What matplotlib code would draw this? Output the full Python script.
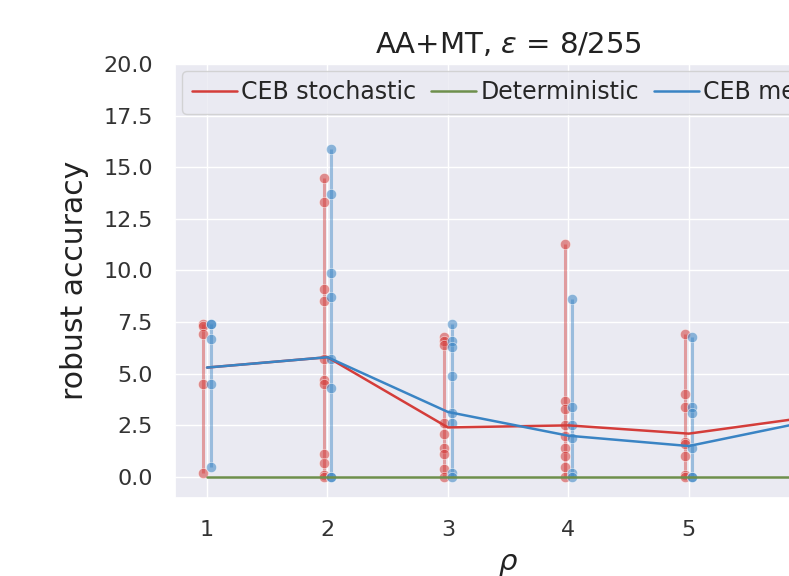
import matplotlib
matplotlib.use("Agg")
import matplotlib.pyplot as plt
import seaborn as sns

rho = [1, 2, 3, 4, 5, 6]

# individual runs (rho = 6 is outside the visible area)
stoch_runs = [
    [7.4, 7.3, 6.9, 4.5, 0.2],
    [14.5, 13.3, 9.1, 8.5, 5.7, 4.7, 4.5, 1.1, 0.7, 0.1, 0.0],
    [6.8, 6.6, 6.4, 2.6, 2.1, 1.4, 1.1, 0.4, 0.0],
    [11.3, 3.7, 3.3, 2.5, 2.0, 1.4, 1.0, 0.5, 0.0],
    [6.9, 4.0, 3.4, 1.7, 1.6, 1.0, 0.1, 0.0],
]
mean_runs = [
    [7.4, 7.4, 6.7, 4.5, 0.5],
    [15.9, 13.7, 9.9, 8.7, 5.7, 4.3, 0.0, 0.0],
    [7.4, 6.6, 6.3, 4.9, 3.1, 2.6, 0.2, 0.0],
    [8.6, 3.4, 2.5, 1.9, 0.2, 0.0],
    [6.8, 3.4, 3.1, 1.4, 0.0, 0.0],
]

stoch_mean = [5.3, 5.8, 2.4, 2.5, 2.1, 2.9]
mean_mean = [5.3, 5.8, 3.15, 2.0, 1.5, 2.7]
det_values = [0.0, 0.0, 0.0, 0.0, 0.0, 0.0]

c_stoch = "#d43d3a"
c_det = "#6e8f4c"
c_mean = "#3a84c4"

sns.set_theme(style="darkgrid")
plt.rcParams["font.family"] = ["DejaVu Sans"]

fig = plt.figure(figsize=(7.89, 5.76), dpi=100)
ax = fig.add_axes([0.222, 0.136, 0.844, 0.753])

for i, x in enumerate(rho[:len(stoch_runs)]):
    for runs, off, c in [(stoch_runs[i], -0.03, c_stoch), (mean_runs[i], 0.03, c_mean)]:
        ax.vlines(x + off, min(runs), max(runs), color=c, alpha=0.45, lw=2.2, zorder=2)
        ax.scatter([x + off] * len(runs), runs, s=55, color=c, alpha=0.55,
                   edgecolor="white", linewidth=0.6, zorder=3)

ax.plot(rho, stoch_mean, color=c_stoch, lw=1.8, label="CEB stochastic", zorder=4)
ax.plot(rho, det_values, color=c_det, lw=1.8, label="Deterministic", zorder=4)
ax.plot(rho, mean_mean, color=c_mean, lw=1.8, label="CEB mean", zorder=4)

ax.set_xlim(0.735, 6.265)
ax.set_ylim(-1, 20)
ax.set_yticks([0, 2.5, 5, 7.5, 10, 12.5, 15, 17.5, 20])
ax.set_yticklabels(["0.0", "2.5", "5.0", "7.5", "10.0", "12.5", "15.0", "17.5", "20.0"])
ax.set_xticks([1, 2, 3, 4, 5, 6])
ax.tick_params(axis="both", labelsize=16, pad=16, colors="#333333", length=0)

ax.set_title(r"AA+MT, $\epsilon$ = 8/255", fontsize=21, pad=8, color="#222222")
ax.set_ylabel("robust accuracy", fontsize=21.5, color="#222222", labelpad=10)
ax.set_xlabel(r"$\rho$", fontsize=21, color="#222222", labelpad=7)

ax.legend(loc="upper left", ncol=3, fontsize=17, handlelength=1.9,
          handletextpad=0.2, columnspacing=0.62, borderaxespad=0.3)

fig.savefig("out.png", dpi=100)
